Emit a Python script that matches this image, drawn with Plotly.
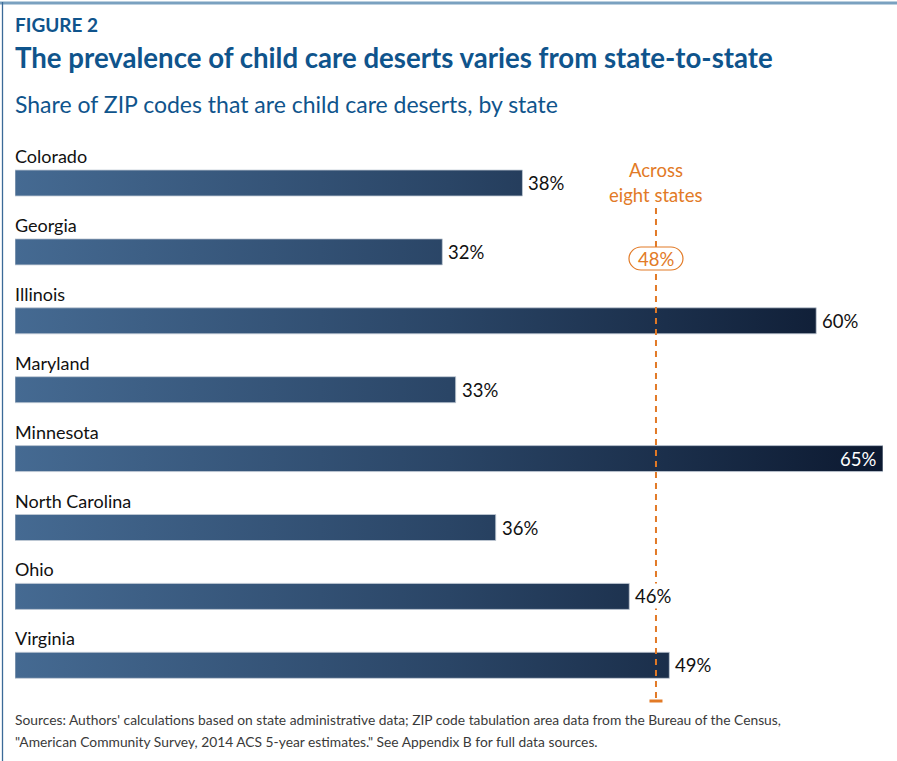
import plotly.graph_objects as go

# ---- data ----
states = ["Colorado", "Georgia", "Illinois", "Maryland", "Minnesota",
          "North Carolina", "Ohio", "Virginia"]
shares = [38, 32, 60, 33, 65, 36, 46, 49]
overall_share = 48
overall_label = ["Across", "eight states"]

title_kicker = "FIGURE 2"
title_main = "The prevalence of child care deserts varies from state-to-state"
subtitle = "Share of ZIP codes that are child care deserts, by state"
source_lines = [
    "Sources: Authors' calculations based on state administrative data; ZIP code tabulation area data from the Bureau of the Census,",
    "\"American Community Survey, 2014 ACS 5-year estimates.\" See Appendix B for full data sources.",
]

# ---- style ----
W, H = 897, 761
L_M, R_M = 15, 14
BLUE = "#0f548c"
ORANGE = "#e27a26"
FONT = "Lato"
PX_PER_ROW = 68.9
FIRST_ROW_PX = 183
HALF_BAR = 13 / PX_PER_ROW


def ypx(px):
    """Convert a pixel row (from top) to the row-index y axis."""
    return (px - FIRST_ROW_PX) / PX_PER_ROW


def ppx(px):
    """Pixel row from top -> paper y."""
    return 1 - px / H


def pxx(px):
    """Pixel column -> paper x."""
    return (px - L_M) / (W - L_M - R_M)


fig = go.Figure()

for i, (s, v) in enumerate(zip(states, shares)):
    fig.add_trace(go.Scatter(
        x=[0, v, v, 0, 0],
        y=[i - HALF_BAR, i - HALF_BAR, i + HALF_BAR, i + HALF_BAR, i - HALF_BAR],
        mode="lines",
        fill="toself",
        line=dict(color="#c3cbd6", width=0.8),
        fillgradient=dict(
            type="horizontal",
            colorscale=[[0, "#456a92"], [0.5, "#2a4566"], [1, "#0c1930"]],
            start=0, stop=max(shares),
        ),
        hoverinfo="text", text=f"{s}: {v}%",
        showlegend=False,
    ))

annotations = []
for i, (s, v) in enumerate(zip(states, shares)):
    annotations.append(dict(
        x=0, y=i - 27 / PX_PER_ROW, xref="x", yref="y", text=s,
        showarrow=False, xanchor="left", yanchor="middle", xshift=-2,
        font=dict(family=FONT, size=18, color="#111111"),
    ))
    inside = v == max(shares)
    annotations.append(dict(
        x=v, y=i, xref="x", yref="y", text=f"{v}%",
        showarrow=False, xanchor="right" if inside else "left",
        xshift=-5 if inside else 4, yanchor="middle",
        bgcolor=None if inside else "white", borderpad=1,
        font=dict(family=FONT, size=18.5, color="white" if inside else "#111111"),
    ))

# average marker labels
annotations.append(dict(x=overall_share, y=ypx(170), xref="x", yref="y",
                        text=overall_label[0], showarrow=False,
                        font=dict(family=FONT, size=18.5, color=ORANGE)))
annotations.append(dict(x=overall_share, y=ypx(195), xref="x", yref="y",
                        text=overall_label[1], showarrow=False,
                        font=dict(family=FONT, size=18.5, color=ORANGE)))
annotations.append(dict(x=overall_share, y=ypx(259), xref="x", yref="y",
                        text=f"{overall_share}%", showarrow=False,
                        font=dict(family=FONT, size=18.5, color=ORANGE)))

# titles
annotations += [
    dict(x=pxx(13), y=ppx(24), xref="paper", yref="paper", text=f"<b>{title_kicker}</b>",
         showarrow=False, xanchor="left", yanchor="middle",
         font=dict(family=FONT, size=19, color=BLUE)),
    dict(x=pxx(13), y=ppx(57), xref="paper", yref="paper", text=f"<b>{title_main}</b>",
         showarrow=False, xanchor="left", yanchor="middle",
         font=dict(family=FONT, size=27.6, color=BLUE)),
    dict(x=pxx(13), y=ppx(104), xref="paper", yref="paper", text=subtitle,
         showarrow=False, xanchor="left", yanchor="middle",
         font=dict(family=FONT, size=23, color=BLUE)),
    dict(x=pxx(13), y=ppx(719), xref="paper", yref="paper", text=source_lines[0],
         showarrow=False, xanchor="left", yanchor="middle",
         font=dict(family=FONT, size=13.8, color="#3a3a3a")),
    dict(x=pxx(13), y=ppx(741), xref="paper", yref="paper", text=source_lines[1],
         showarrow=False, xanchor="left", yanchor="middle",
         font=dict(family=FONT, size=13.8, color="#3a3a3a")),
]

oval = ("M -15,11.5 L 15,11.5 C 21.4,11.5 27,6.4 27,0 C 27,-6.4 21.4,-11.5 15,-11.5 "
        "L -15,-11.5 C -21.4,-11.5 -27,-6.4 -27,0 C -27,6.4 -21.4,11.5 -15,11.5 Z")

shapes = [
    # dashed average line
    dict(type="line", xref="x", yref="y", x0=overall_share, x1=overall_share,
         y0=ypx(208), y1=ypx(700), line=dict(color=ORANGE, width=2, dash="6px,5px"),
         layer="above"),
    # bottom cap
    dict(type="rect", xref="x", yref="y", xsizemode="pixel", ysizemode="pixel",
         xanchor=overall_share, yanchor=ypx(701), x0=-6.5, x1=6.5, y0=-1.5, y1=1.5,
         fillcolor=ORANGE, line=dict(width=0), layer="above"),
    # oval around the 48%
    dict(type="path", xref="x", yref="y", xsizemode="pixel", ysizemode="pixel",
         xanchor=overall_share, yanchor=ypx(258.5), path=oval,
         fillcolor="white", line=dict(color=ORANGE, width=1.2), layer="above"),
    # frame
    dict(type="line", xref="paper", yref="paper", x0=pxx(0), x1=pxx(W),
         y0=ppx(3), y1=ppx(3), line=dict(color="#7aa1c0", width=3)),
    dict(type="line", xref="paper", yref="paper", x0=pxx(2.5), x1=pxx(2.5),
         y0=ppx(2), y1=ppx(H), line=dict(color="#3b6a98", width=1.3)),
]

fig.update_layout(
    width=W, height=H,
    margin=dict(l=L_M, r=R_M, t=0, b=0),
    paper_bgcolor="white", plot_bgcolor="white",
    xaxis=dict(range=[0, max(shares)], visible=False, fixedrange=True),
    yaxis=dict(range=[ypx(H), ypx(0)], visible=False, fixedrange=True),
    annotations=annotations, shapes=shapes,
    showlegend=False,
)

fig.write_html(
    "out.html",
    config={"displayModeBar": False},
    post_script="document.body.style.margin='0px';document.body.style.overflow='hidden';",
)
